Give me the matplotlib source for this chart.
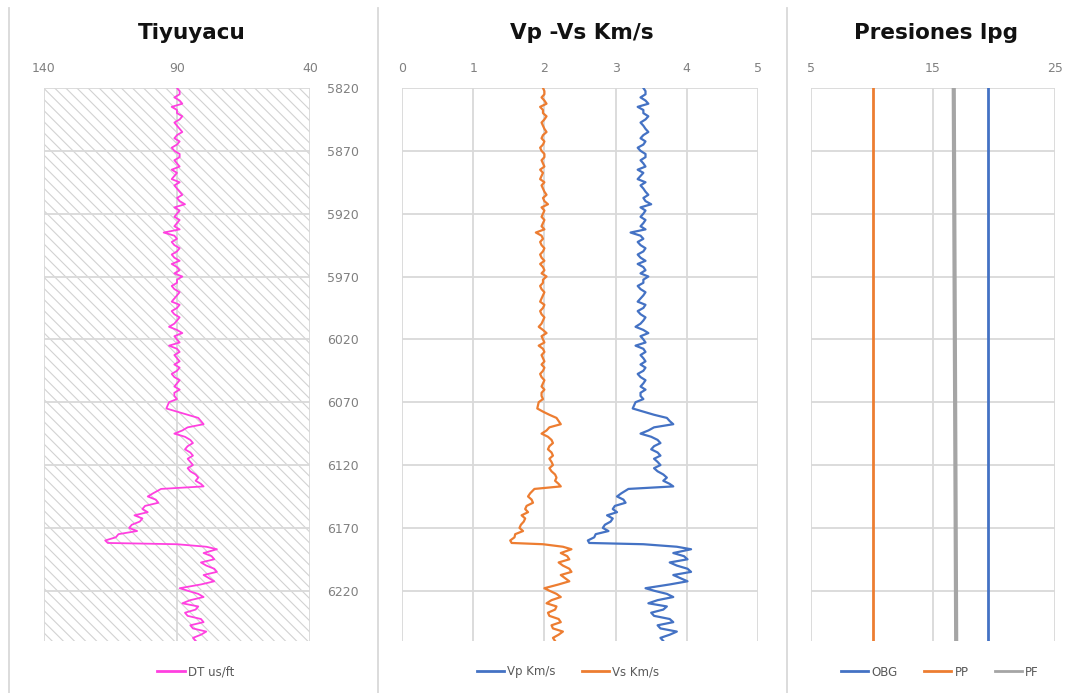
import matplotlib
matplotlib.use('Agg')
import matplotlib.pyplot as plt
from matplotlib.patches import Rectangle
from matplotlib.lines import Line2D

matplotlib.rcParams['font.family'] = 'DejaVu Sans'
matplotlib.rcParams['hatch.linewidth'] = 0.8

# Well log samples (depth in ft)
depth = [5820, 5822.5, 5825, 5827.5, 5830, 5832.5, 5835, 5837.5, 5840, 5842.5,
         5845, 5847.5, 5850, 5852.5, 5855, 5857.5, 5860, 5862.5, 5865, 5867.5,
         5870, 5872.5, 5875, 5877.5, 5880, 5882.5, 5885, 5887.5, 5890, 5892.5,
         5895, 5897.5, 5900, 5902.5, 5905, 5907.5, 5910, 5912.5, 5915, 5917.5,
         5920, 5922.5, 5925, 5927.5, 5930, 5932.5, 5935, 5937.5, 5940, 5942.5,
         5945, 5947.5, 5950, 5952.5, 5955, 5957.5, 5960, 5962.5, 5965, 5967.5,
         5970, 5972.5, 5975, 5977.5, 5980, 5982.5, 5985, 5987.5, 5990, 5992.5,
         5995, 5997.5, 6000, 6002.5, 6005, 6007.5, 6010, 6012.5, 6015, 6017.5,
         6020, 6022.5, 6025, 6027.5, 6030, 6032.5, 6035, 6037.5, 6040, 6042.5,
         6045, 6047.5, 6050, 6052.5, 6055, 6057.5, 6060, 6062.5, 6065, 6067.5,
         6070, 6075, 6077.5, 6080, 6082.5, 6085, 6087.5, 6090, 6092.5, 6095,
         6097.5, 6100, 6102.5, 6105, 6107.5, 6110, 6112.5, 6115, 6117.5, 6120,
         6122.5, 6125, 6127.5, 6130, 6132.5, 6135, 6137, 6139, 6142.5, 6145,
         6147.5, 6150, 6152.5, 6155, 6157.5, 6160, 6162.5, 6165, 6167.5, 6170,
         6172.5, 6175, 6177.5, 6180, 6182, 6183, 6185, 6187, 6190, 6192.5,
         6195, 6197.5, 6200, 6202.5, 6205, 6207.5, 6210, 6212.5, 6215, 6218,
         6220, 6222.5, 6225, 6227.5, 6230, 6232.5, 6235, 6237.5, 6240, 6242.5,
         6245, 6247.5, 6250, 6252.5, 6255, 6257.5, 6260]

# Sonic transit time, us/ft
dt = [90, 89, 89, 91, 89, 88, 92, 90, 90, 88,
      89, 91, 90, 89, 88, 90, 91, 89, 90, 92,
      91, 89, 89, 91, 90, 89, 92, 90, 91, 92,
      89, 91, 90, 89, 88, 90, 89, 87, 91, 89,
      90, 91, 89, 90, 91, 89, 95, 91, 90, 92,
      91, 89, 90, 92, 91, 89, 92, 90, 89, 91,
      88, 90, 90, 92, 91, 89, 90, 91, 92, 89,
      90, 92, 91, 89, 90, 91, 93, 90, 88, 91,
      90, 89, 93, 90, 89, 91, 90, 89, 91, 89,
      90, 92, 91, 89, 90, 91, 89, 91, 91, 90,
      93, 94, 90, 86, 82, 81, 80, 86, 88, 91,
      87, 85, 84, 86, 87, 85, 84, 86, 85, 84,
      86, 85, 83, 82, 83, 81, 80, 96, 99, 101,
      98, 97, 102, 103, 101, 106, 103, 104, 107, 108,
      105, 112, 113, 117, 116, 90, 79, 75, 80, 77,
      76, 81, 79, 76, 75, 80, 78, 76, 81, 89,
      86, 82, 80, 85, 88, 82, 83, 87, 86, 81,
      80, 85, 84, 79, 81, 84, 83]

# Compressional velocity, km/s
vp = [3.39, 3.42, 3.42, 3.35, 3.42, 3.46, 3.31, 3.39, 3.39, 3.46,
      3.42, 3.35, 3.39, 3.42, 3.46, 3.39, 3.35, 3.42, 3.39, 3.31,
      3.35, 3.42, 3.42, 3.35, 3.39, 3.42, 3.31, 3.39, 3.35, 3.31,
      3.42, 3.35, 3.39, 3.42, 3.46, 3.39, 3.42, 3.50, 3.35, 3.42,
      3.39, 3.35, 3.42, 3.39, 3.35, 3.42, 3.21, 3.35, 3.39, 3.31,
      3.35, 3.42, 3.39, 3.31, 3.35, 3.42, 3.31, 3.39, 3.42, 3.35,
      3.46, 3.39, 3.39, 3.31, 3.35, 3.42, 3.39, 3.35, 3.31, 3.42,
      3.39, 3.31, 3.35, 3.42, 3.39, 3.35, 3.28, 3.39, 3.46, 3.35,
      3.39, 3.42, 3.28, 3.39, 3.42, 3.35, 3.39, 3.42, 3.35, 3.42,
      3.39, 3.31, 3.35, 3.42, 3.39, 3.35, 3.42, 3.35, 3.35, 3.39,
      3.28, 3.24, 3.39, 3.54, 3.72, 3.76, 3.81, 3.54, 3.46, 3.35,
      3.50, 3.59, 3.63, 3.54, 3.50, 3.59, 3.63, 3.54, 3.59, 3.63,
      3.54, 3.59, 3.67, 3.72, 3.67, 3.76, 3.81, 3.18, 3.08, 3.02,
      3.11, 3.14, 2.99, 2.96, 3.02, 2.88, 2.96, 2.93, 2.85, 2.82,
      2.90, 2.72, 2.70, 2.61, 2.63, 3.39, 3.86, 4.06, 3.81, 3.96,
      4.01, 3.76, 3.86, 4.01, 4.06, 3.81, 3.91, 4.01, 3.76, 3.42,
      3.54, 3.72, 3.81, 3.59, 3.46, 3.72, 3.67, 3.50, 3.54, 3.76,
      3.81, 3.59, 3.63, 3.86, 3.76, 3.63, 3.67]

# Shear velocity, km/s
vs = [1.98, 2.00, 2.00, 1.96, 2.00, 2.03, 1.94, 1.98, 1.98, 2.03,
      2.00, 1.96, 1.98, 2.00, 2.03, 1.98, 1.96, 2.00, 1.98, 1.94,
      1.96, 2.00, 2.00, 1.96, 1.98, 2.00, 1.94, 1.98, 1.96, 1.94,
      2.00, 1.96, 1.98, 2.00, 2.03, 1.98, 2.00, 2.05, 1.96, 2.00,
      1.98, 1.96, 2.00, 1.98, 1.96, 2.00, 1.88, 1.96, 1.98, 1.94,
      1.96, 2.00, 1.98, 1.94, 1.96, 2.00, 1.94, 1.98, 2.00, 1.96,
      2.03, 1.98, 1.98, 1.94, 1.96, 2.00, 1.98, 1.96, 1.94, 2.00,
      1.98, 1.94, 1.96, 2.00, 1.98, 1.96, 1.92, 1.98, 2.03, 1.96,
      1.98, 2.00, 1.92, 1.98, 2.00, 1.96, 1.98, 2.00, 1.96, 2.00,
      1.98, 1.94, 1.96, 2.00, 1.98, 1.96, 2.00, 1.96, 1.96, 1.98,
      1.92, 1.90, 1.98, 2.07, 2.17, 2.20, 2.23, 2.07, 2.03, 1.96,
      2.05, 2.10, 2.12, 2.07, 2.05, 2.10, 2.12, 2.07, 2.10, 2.12,
      2.07, 2.10, 2.15, 2.17, 2.15, 2.20, 2.23, 1.86, 1.80, 1.77,
      1.82, 1.84, 1.75, 1.73, 1.77, 1.68, 1.73, 1.71, 1.67, 1.65,
      1.70, 1.59, 1.58, 1.52, 1.54, 1.98, 2.26, 2.38, 2.23, 2.32,
      2.35, 2.20, 2.26, 2.35, 2.38, 2.23, 2.29, 2.35, 2.20, 2.00,
      2.07, 2.17, 2.23, 2.10, 2.03, 2.17, 2.15, 2.05, 2.07, 2.20,
      2.23, 2.10, 2.12, 2.26, 2.20, 2.12, 2.15]

# Pressure gradients, lpg
pres_depth = [5820, 6260]
obg = [19.5, 19.5]
pp = [10.1, 10.1]
pf = [16.7, 16.9]

depth_ticks = [5820, 5870, 5920, 5970, 6020, 6070, 6120, 6170, 6220]

W, H = 1085, 693
GRID = '#D9D9D9'
TICK = '#808080'

fig = plt.figure(figsize=(W / 100, H / 100), dpi=100)


def add_track(left, right, top=88, bottom=641):
    ax = fig.add_axes([left / W, 1 - bottom / H, (right - left) / W, (bottom - top) / H])
    for s in ax.spines.values():
        s.set_visible(False)
    ax.set_ylim(6260, 5820)
    ax.set_yticks(depth_ticks)
    ax.xaxis.tick_top()
    ax.tick_params(axis='x', length=0, pad=9, labelsize=9, labelcolor=TICK)
    ax.tick_params(axis='y', length=0)
    ax.grid(True, color=GRID, linewidth=1.3)
    ax.set_axisbelow(True)
    return ax


def add_legend(ax, items, xc):
    handles = [Line2D([0], [0], color=c, lw=2) for _, c in items]
    labels = [t for t, _ in items]
    ax.legend(handles, labels, loc='center', bbox_to_anchor=(xc / W, 1 - 672 / H),
              bbox_transform=fig.transFigure, ncol=len(items), frameon=False,
              fontsize=8.5, labelcolor='#595959', handlelength=2.3,
              handletextpad=0.3, columnspacing=2.2)


# Track 1: sonic
ax1 = add_track(44, 310)
ax1.set_xlim(140, 40)
ax1.set_xticks([140, 90, 40])
ax1.yaxis.tick_right()
ax1.tick_params(axis='y', pad=12, labelsize=9, labelcolor=TICK)
ax1.add_patch(Rectangle((0, 0), 1, 1, transform=ax1.transAxes, facecolor='white',
                        edgecolor='#D2D2D2', hatch='\\\\\\', linewidth=0, zorder=0.1))
ax1.plot(dt, depth, color='#FF40E0', lw=1.3, zorder=3)
add_legend(ax1, [('DT us/ft', '#FF40E0')], 196)

# Track 2: velocities
ax2 = add_track(402, 758)
ax2.set_xlim(0, 5)
ax2.set_xticks(range(6))
ax2.tick_params(axis='y', labelleft=False)
ax2.plot(vp, depth, color='#4472C4', lw=1.6, zorder=3)
ax2.plot(vs, depth, color='#ED7D31', lw=1.6, zorder=3)
add_legend(ax2, [('Vp Km/s', '#4472C4'), ('Vs Km/s', '#ED7D31')], 568)

# Track 3: pressures
ax3 = add_track(811, 1055)
ax3.set_xlim(5, 25)
ax3.set_xticks([5, 15, 25])
ax3.tick_params(axis='y', labelleft=False)
ax3.plot(obg, pres_depth, color='#4472C4', lw=2, zorder=3)
ax3.plot(pp, pres_depth, color='#ED7D31', lw=2, zorder=3)
ax3.plot(pf, pres_depth, color='#A5A5A5', lw=3, zorder=3)
add_legend(ax3, [('OBG', '#4472C4'), ('PP', '#ED7D31'), ('PF', '#A5A5A5')], 940)

# Titles
for xc, title in [(192, 'Tiyuyacu'), (582, 'Vp -Vs Km/s'), (936, 'Presiones lpg')]:
    fig.text(xc / W, 1 - 33 / H, title, ha='center', va='center',
             fontsize=15.5, fontweight='bold', color='#111111')

# Panel borders
for x in [9, 378, 787]:
    fig.add_artist(Line2D([x / W, x / W], [0, 1 - 8 / H], color=GRID, lw=1.3))

fig.savefig('out.png', dpi=100)
